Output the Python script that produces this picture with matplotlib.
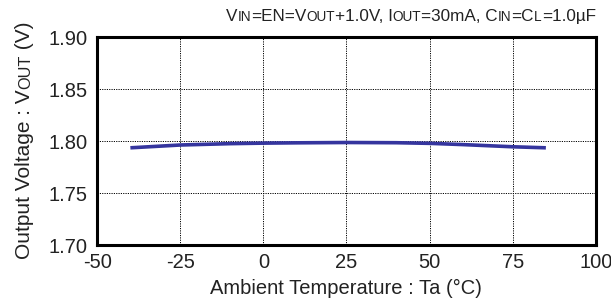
import matplotlib
matplotlib.use("Agg")
import matplotlib.pyplot as plt
from matplotlib.offsetbox import TextArea, HPacker, AnchoredOffsetbox

plt.rcParams['font.family'] = ['Liberation Sans', 'DejaVu Sans']

# --- data ---
temp = [-40, -25, -10, 0, 10, 25, 40, 50, 60, 75, 85]
vout = [1.7935, 1.7962, 1.7975, 1.7980, 1.7983, 1.7986, 1.7984, 1.7978, 1.7966, 1.7945, 1.7935]

xticks = [-50, -25, 0, 25, 50, 75, 100]
yticks = [1.70, 1.75, 1.80, 1.85, 1.90]

txt = '#222222'
fs = 14.5

fig = plt.figure(figsize=(6.11, 3.04), dpi=100)
ax = fig.add_axes([0.159, 0.194, 0.816, 0.684])

ax.plot(temp, vout, color='#35359e', lw=2.6, solid_capstyle='butt')

ax.set_xlim(-50, 100)
ax.set_ylim(1.70, 1.90)
ax.set_xticks(xticks)
ax.set_xticklabels([str(v) for v in xticks])
ax.set_yticks(yticks)
ax.set_yticklabels([f"{v:.2f}" for v in yticks])
ax.tick_params(length=0, labelsize=fs, colors=txt)
ax.tick_params(axis='y', pad=7)
ax.tick_params(axis='x', pad=6)
ax.grid(True, color='black', linestyle=(0, (1.2, 1.2)), lw=0.7)
for s in ax.spines.values():
    s.set_linewidth(2.2)
    s.set_color('black')

ax.set_xlabel('Ambient Temperature : Ta (°C)', fontsize=fs, color=txt, labelpad=5)


def packed(parts):
    areas = [TextArea(t, textprops=dict(fontsize=s, color=txt)) for t, s in parts]
    return HPacker(children=areas, align="baseline", pad=0, sep=0)


# --- title with small-caps style subscripts ---
big, small = 12.3, 9.8
title_parts = [("V", big), ("IN", small), ("=EN=V", big), ("OUT", small), ("+1.0V, I", big),
               ("OUT", small), ("=30mA, C", big), ("IN", small), ("=C", big), ("L", small),
               ("=1.0µF", big)]
anch = AnchoredOffsetbox(loc='lower right', child=packed(title_parts), pad=0, frameon=False,
                         bbox_to_anchor=(1.0, 1.065), bbox_transform=ax.transAxes, borderpad=0)
ax.add_artist(anch)

# --- rotated y label with small-caps "OUT" ---
ylab_parts = [("Output Voltage : V", 15), ("OUT", 15 * 0.78), (" (V)", 15)]
fig.canvas.draw()
renderer = fig.canvas.get_renderer()
pieces = []
for t, s in ylab_parts:
    pieces.append(fig.text(0, 0, t, fontsize=s, color=txt, rotation=90,
                           rotation_mode='anchor', ha='left', va='baseline'))
lengths = [p.get_window_extent(renderer).height for p in pieces]
H = fig.bbox.height
y0 = H - 259
xb = 30
for p, L in zip(pieces, lengths):
    p.set_position((xb / fig.bbox.width, y0 / H))
    y0 += L

fig.savefig('out.png', dpi=100)
